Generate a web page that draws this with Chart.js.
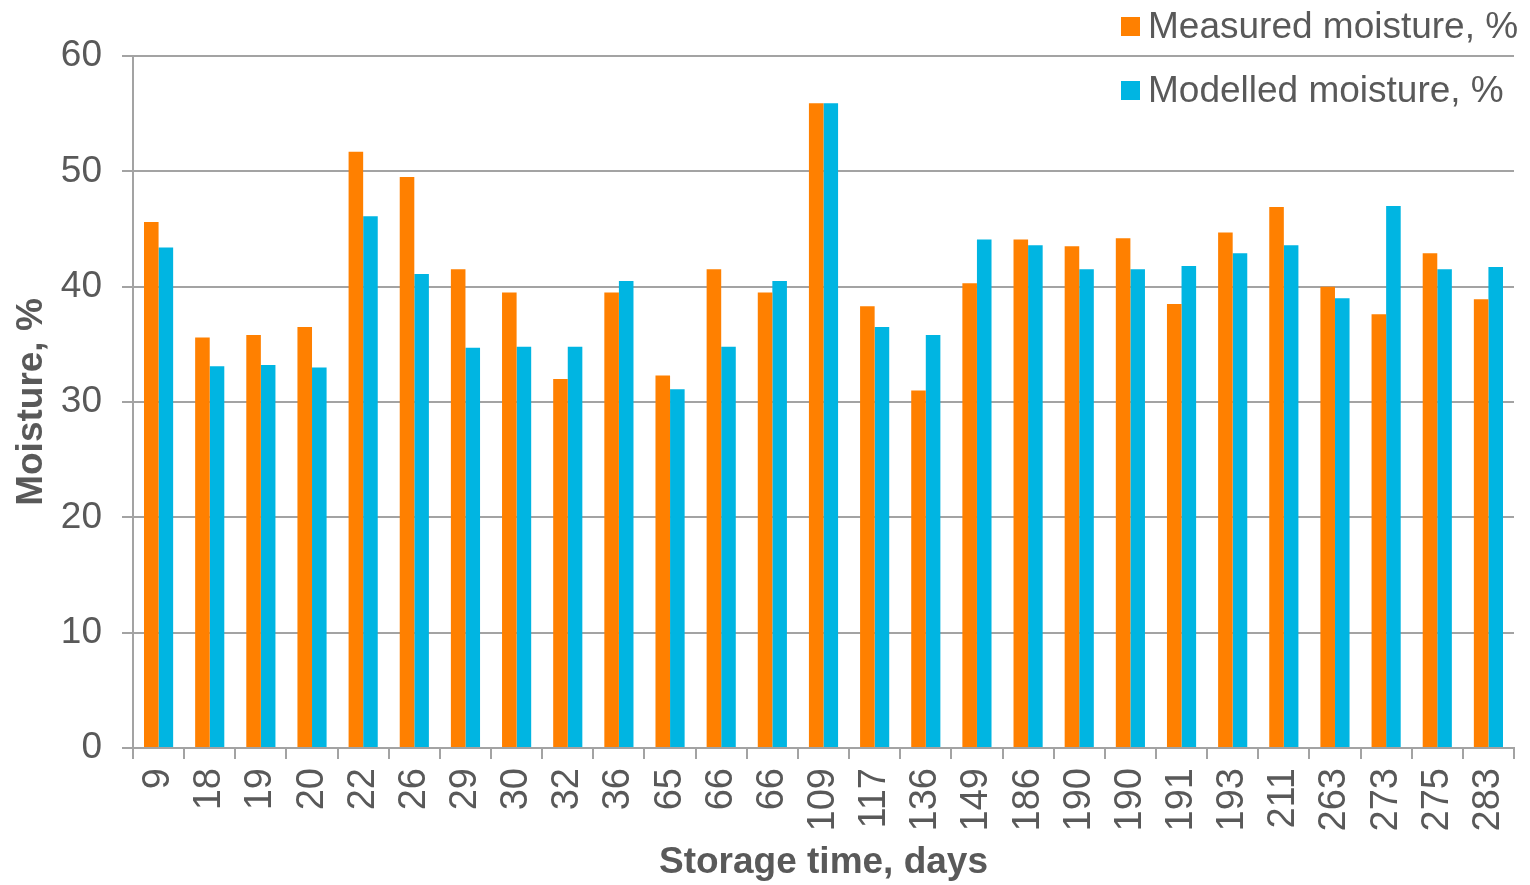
<!DOCTYPE html>
<html>
<head>
<meta charset="utf-8">
<script src="https://cdn.jsdelivr.net/npm/chart.js@4.4.1/dist/chart.umd.min.js"></script>
<style>
  html, body { margin: 0; padding: 0; background: #ffffff; }
  #wrap { width: 1530px; height: 885px; position: relative; }
</style>
</head>
<body>
<div id="wrap"><canvas id="moistureChart"></canvas></div>
<script>
// Storage time (days) for each sample
const storageDays = ["9", "18", "19", "20", "22", "26", "29", "30", "32", "36", "65", "66", "66", "109",
  "117", "136", "149", "186", "190", "190", "191", "193", "211", "263", "273", "275", "283"]

const measuredMoisture = [45.6, 35.6, 35.8, 36.5, 51.7, 49.5, 41.5, 39.5, 32.0, 39.5, 32.3, 41.5, 39.5, 55.9,
  38.3, 31.0, 40.3, 44.1, 43.5, 44.2, 38.5, 44.7, 46.9, 40.0, 37.6, 42.9, 38.9]

const modelledMoisture = [43.4, 33.1, 33.2, 33.0, 46.1, 41.1, 34.7, 34.8, 34.8, 40.5, 31.1, 34.8, 40.5, 55.9,
  36.5, 35.8, 44.1, 43.6, 41.5, 41.5, 41.8, 42.9, 43.6, 39.0, 47.0, 41.5, 41.7]

const yTicks = [0, 10, 20, 30, 40, 50, 60]

const TEXT_COLOR = "#595959"
const GRID_COLOR = "#a3a3a3"
const FONT_FAMILY = "'Liberation Sans', Arial, sans-serif"

// Legend drawn in the top right corner, partly over the plot (like the original)
const cornerLegend = {
  id: "cornerLegend",
  afterDraw(chart) {
    const ctx = chart.ctx
    ctx.save()
    ctx.font = `37px ${FONT_FAMILY}`
    ctx.textBaseline = "middle"
    ctx.textAlign = "left"
    chart.data.datasets.forEach((ds, i) => {
      const cy = 26 + i * 64
      ctx.fillStyle = ds.backgroundColor
      ctx.fillRect(1121, cy - 9, 19, 19)
      ctx.fillStyle = TEXT_COLOR
      ctx.fillText(ds.label, 1148, cy + 2)
    })
    ctx.restore()
  },
}

const ctx = document.getElementById("moistureChart").getContext("2d")
new Chart(ctx, {
  type: "bar",
  data: {
    labels: storageDays,
    datasets: [
      {
        label: "Measured moisture, %",
        data: measuredMoisture,
        backgroundColor: "#ff8000",
      },
      {
        label: "Modelled moisture, %",
        data: modelledMoisture,
        backgroundColor: "#00b5e2",
      },
    ],
  },
  options: {
    responsive: true,
    maintainAspectRatio: false,
    animation: false,
    devicePixelRatio: 1,
    layout: {
      padding: { top: 56, right: 16, left: 0, bottom: 0 },
    },
    datasets: {
      bar: {
        categoryPercentage: 0.57,
        barPercentage: 1.0,
      },
    },
    plugins: {
      legend: { display: false },
      tooltip: { enabled: false },
    },
    scales: {
      x: {
        grid: {
          drawOnChartArea: false,
          drawTicks: true,
          tickLength: 11,
          color: GRID_COLOR,
          lineWidth: 2,
        },
        border: { color: GRID_COLOR, width: 2 },
        ticks: {
          color: TEXT_COLOR,
          font: { family: FONT_FAMILY, size: 38 },
          minRotation: 90,
          maxRotation: 90,
          autoSkip: false,
          padding: 9,
        },
        title: {
          display: true,
          text: "Storage time, days",
          color: TEXT_COLOR,
          font: { family: FONT_FAMILY, size: 37, weight: "bold" },
          padding: { top: 0, bottom: 0 },
        },
        afterFit(scale) {
          scale.height = 137
          scale.paddingLeft = 0
          scale.paddingRight = 0
        },
      },
      y: {
        min: 0,
        max: 60,
        afterBuildTicks(scale) {
          scale.ticks = yTicks.map((v) => ({ value: v }))
        },
        grid: {
          color: GRID_COLOR,
          lineWidth: 2,
          tickLength: 11,
        },
        border: { color: GRID_COLOR, width: 2 },
        ticks: {
          color: TEXT_COLOR,
          font: { family: FONT_FAMILY, size: 37 },
          padding: 20,
        },
        title: {
          display: true,
          text: "Moisture, %",
          color: TEXT_COLOR,
          font: { family: FONT_FAMILY, size: 37, weight: "bold" },
          padding: { top: 10, bottom: 0 },
        },
        afterFit(scale) {
          scale.width = 133
          scale.paddingTop = 0
          scale.paddingBottom = 0
        },
      },
    },
  },
  plugins: [cornerLegend],
})
</script>
</body>
</html>
